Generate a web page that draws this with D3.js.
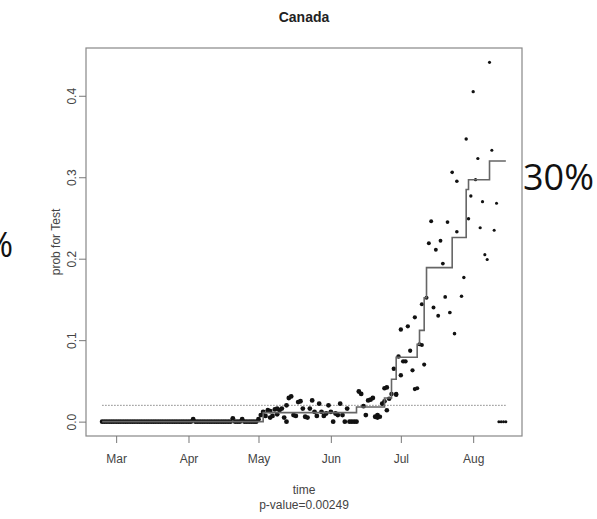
<!DOCTYPE html>
<html>
<head>
<meta charset="utf-8">
<script src="https://cdn.jsdelivr.net/npm/d3@7/dist/d3.min.js"></script>
<style>
  body { margin: 0; background: #fff; }
  svg { display: block; }
</style>
</head>
<body>
<script>
// chart texts
var chartTitle = "Canada";
var yLabel = "prob for Test";
var xLabel = "time";
var pLabel = "p-value=0.00249";
var rightNote = "30%";
var leftNote = "%";

// axis ticks
var yTicks = [0, 0.1, 0.2, 0.3, 0.4];
var xTickDates = ["2020-03-01", "2020-04-01", "2020-05-01", "2020-06-01", "2020-07-01", "2020-08-01"];
var xTickLabels = ["Mar", "Apr", "May", "Jun", "Jul", "Aug"];

// daily observed probabilities, starting Feb 24 (null = no point, array = several points)
var seriesStart = "2020-02-24";
var dailyProb = [
  // Feb 24 - Apr 30
  0, 0, 0, 0, 0, 0, 0, 0, 0, 0,
  0, 0, 0, 0, 0, 0, 0, 0, 0, 0,
  0, 0, 0, 0, 0, 0, 0, 0, 0, 0,
  0, 0, 0, 0, 0, 0, 0, 0, 0, 0.003,
  0, 0, 0, 0, 0, 0, 0, 0, 0, 0,
  0, 0, 0, 0, 0, 0, 0.004, 0, 0, 0,
  0.003, 0, 0, 0, 0, 0, 0,
  // May 1 - May 31
  0.003, 0.008, 0.012, 0.007, 0.014, [0.013, 0.005], 0.007, 0.015, [0.009, 0.016], 0.014,
  0.016, 0.005, [0.000, 0.020], 0.029, 0.031, 0.008, 0.007, 0.024, 0.025, 0.016,
  0.006, 0.005, 0.016, 0.026, 0.012, 0.007, 0.022, 0.012, 0.007, 0.010,
  0.020,
  // Jun 1 - Jun 30
  0.012, 0.000, 0.010, 0.008, 0.022, 0.008, 0.000, 0.016, 0.000, 0.000,
  0.000, 0.000, 0.037, 0.034, 0.019, 0.008, 0.026, 0.027, 0.029, 0.006,
  [0.008, 0.005], 0.006, 0.022, [0.041, 0.025], [0.042, 0.014], 0.028, 0.034, 0.065, [0.033, 0.034], 0.080,
  // Jul 1 - Jul 31
  [0.113, 0.057], 0.074, 0.074, 0.117, 0.087, 0.063, [0.128, 0.040], 0.041, 0.095, [0.094, 0.144],
  0.070, 0.152, 0.219, 0.246, 0.140, 0.211, 0.130, 0.222, 0.194, 0.153,
  0.245, 0.134, 0.306, 0.108, [0.233, 0.295], null, 0.154, 0.177, 0.347, 0.249,
  0.277,
  // Aug 1 - Aug 15
  0.405, 0.297, 0.323, 0.238, 0.270, 0.205, 0.199, 0.441, 0.333, 0.235,
  0.268, 0, 0, 0, 0
];

// fitted step curve
var stepDates = ["2020-02-24", "2020-05-03", "2020-06-12", "2020-06-24", "2020-06-27", "2020-06-29",
                 "2020-07-08", "2020-07-09", "2020-07-11", "2020-07-12", "2020-07-23", "2020-07-29",
                 "2020-07-30", "2020-08-08", "2020-08-15"];
var stepValues = [0, 0.011, 0.018, 0.029, 0.052, 0.079, 0.095, 0.112, 0.152, 0.189, 0.226, 0.285,
                  0.297, 0.320, 0.320];

var thresholdValue = 0.02;

function init() {
    var width = 597;
    var height = 519;
    var box = { left: 86, right: 522, top: 48, bottom: 436 };
    var parse = d3.timeParse("%Y-%m-%d");

    var svg = d3.select("body").append("svg")
        .attr("width", width)
        .attr("height", height)
        .style("font-family", "'Liberation Sans', Arial, sans-serif");

    // flatten the daily values into points
    var start = parse(seriesStart);
    var points = [];
    dailyProb.forEach(function(v, i) {
        if (v === null) return;
        var day = d3.timeDay.offset(start, i);
        [].concat(v).forEach(function(p) { points.push({ date: day, value: p }); });
    });

    var steps = stepDates.map(function(d, i) { return { date: parse(d), value: stepValues[i] }; });

    // R style scales: data range padded by 4% each side
    var xExt = d3.extent(steps.concat(points), function(d) { return d.date; });
    var xPad = (xExt[1] - xExt[0]) * 0.04;
    var x = d3.scaleTime()
        .domain([new Date(+xExt[0] - xPad), new Date(+xExt[1] + xPad)])
        .range([box.left, box.right]);

    var yMax = d3.max(points, function(d) { return d.value; });
    var y = d3.scaleLinear()
        .domain([-yMax * 0.04, yMax * 1.04])
        .range([box.bottom, box.top]);

    // earlier points are drawn a little heavier
    var radius = d3.scaleTime()
        .domain([parse("2020-06-20"), parse("2020-08-10")])
        .range([2.4, 1.5])
        .clamp(true);

    // threshold line
    svg.append("line")
        .attr("x1", x(xExt[0])).attr("x2", x(xExt[1]))
        .attr("y1", y(thresholdValue)).attr("y2", y(thresholdValue))
        .attr("stroke", "#777")
        .attr("stroke-width", 0.9)
        .attr("stroke-dasharray", "1.5,1.5");

    // points
    svg.append("g").selectAll("circle")
        .data(points)
        .enter().append("circle")
        .attr("cx", function(d) { return x(d.date); })
        .attr("cy", function(d) { return y(d.value); })
        .attr("r", function(d) { return radius(d.date); })
        .attr("fill", "#111");

    // step line
    var stepLine = d3.line()
        .x(function(d) { return x(d.date); })
        .y(function(d) { return y(d.value); })
        .curve(d3.curveStepAfter);

    svg.append("path")
        .datum(steps)
        .attr("d", stepLine)
        .attr("fill", "none")
        .attr("stroke", "#666")
        .attr("stroke-width", 1.6);

    // plot box
    svg.append("rect")
        .attr("x", box.left).attr("y", box.top)
        .attr("width", box.right - box.left)
        .attr("height", box.bottom - box.top)
        .attr("fill", "none")
        .attr("stroke", "#888")
        .attr("stroke-width", 1.2);

    // x axis
    var xAxis = d3.axisBottom(x)
        .tickValues(xTickDates.map(parse))
        .tickFormat(function(d, i) { return xTickLabels[i]; })
        .tickSize(7)
        .tickPadding(11);

    var gx = svg.append("g")
        .attr("transform", "translate(0," + box.bottom + ")")
        .call(xAxis);
    gx.select(".domain").remove();
    gx.selectAll(".tick line").attr("stroke", "#777");
    gx.selectAll(".tick text")
        .attr("fill", "#444")
        .style("font-size", "12px")
        .style("font-family", "'Liberation Sans', Arial, sans-serif");

    // y axis
    var yAxis = d3.axisLeft(y)
        .tickValues(yTicks)
        .tickFormat(d3.format(".1f"))
        .tickSize(7);

    var gy = svg.append("g")
        .attr("transform", "translate(" + box.left + ",0)")
        .call(yAxis);
    gy.select(".domain").remove();
    gy.selectAll(".tick line").attr("stroke", "#777");
    gy.selectAll(".tick text")
        .attr("x", null).attr("dy", null)
        .attr("text-anchor", "middle")
        .attr("transform", "translate(-10,0) rotate(-90)")
        .attr("fill", "#444")
        .style("font-size", "12px")
        .style("font-family", "'Liberation Sans', Arial, sans-serif");

    // titles
    svg.append("text")
        .attr("x", (box.left + box.right) / 2)
        .attr("y", 22)
        .attr("text-anchor", "middle")
        .attr("font-weight", "bold")
        .attr("font-size", "14px")
        .attr("fill", "#222")
        .text(chartTitle);

    svg.append("text")
        .attr("transform", "translate(60," + ((box.top + box.bottom) / 2) + ") rotate(-90)")
        .attr("text-anchor", "middle")
        .attr("font-size", "12px")
        .attr("fill", "#444")
        .text(yLabel);

    svg.append("text")
        .attr("x", (box.left + box.right) / 2)
        .attr("y", 494)
        .attr("text-anchor", "middle")
        .attr("font-size", "12px")
        .attr("fill", "#444")
        .text(xLabel);

    svg.append("text")
        .attr("x", (box.left + box.right) / 2)
        .attr("y", 509)
        .attr("text-anchor", "middle")
        .attr("font-size", "12px")
        .attr("fill", "#444")
        .text(pLabel);

    // overlaid labels (the left one is cut by the page edge, as in the source)
    svg.append("text")
        .attr("x", 523)
        .attr("y", 190)
        .attr("font-family", "'Open Sans', sans-serif")
        .attr("font-size", "36px")
        .attr("fill", "#111")
        .text(rightNote);

    svg.append("text")
        .attr("x", 13)
        .attr("y", 257)
        .attr("text-anchor", "end")
        .attr("font-family", "'Open Sans', sans-serif")
        .attr("font-size", "34px")
        .attr("fill", "#111")
        .text(leftNote);
}

window.onload = init;
</script>
</body>
</html>
